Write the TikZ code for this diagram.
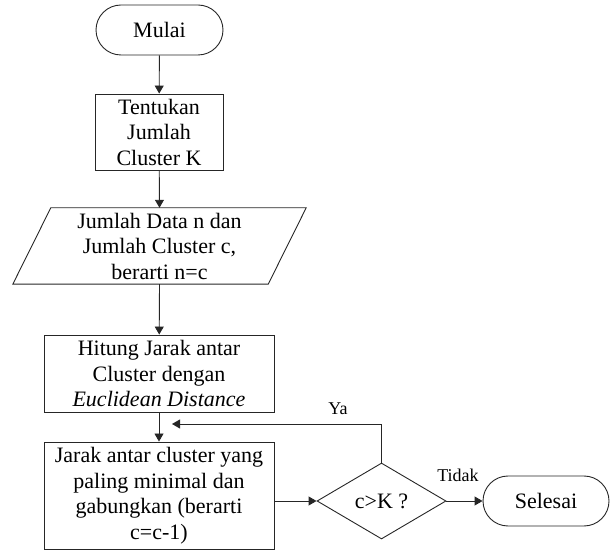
\documentclass[tikz,border=0pt]{standalone}
\usepackage{fontspec}
\setmainfont{Liberation Serif}
\usetikzlibrary{shapes.geometric,arrows.meta,calc}
\begin{document}
\begin{tikzpicture}[x=1pt,y=-1pt,
  every node/.style={font=\fontsize{22}{25.5}\selectfont, text=black, align=center, inner sep=0pt},
  line/.style={draw=black!85, line width=0.9pt},
  arr/.style={line, -{Triangle[length=8pt,width=9pt]}},
  term/.style={line, rounded corners=25pt, minimum height=50pt},
  proc/.style={line, rectangle},
  dec/.style={line, diamond, minimum width=129pt, minimum height=76pt},
  lbl/.style={font=\fontsize{18}{21}\selectfont}
]
\useasboundingbox (0,0) rectangle (611,553);
\node[term, minimum width=127pt] (mulai) at (159.5,30) {Mulai};
\node[proc, minimum width=128pt, minimum height=76pt] (tentukan) at (159,132) {Tentukan\\Jumlah\\Cluster K};
\node[minimum width=293pt, minimum height=76pt] (para) at (159.5,246) {Jumlah Data n dan\\Jumlah Cluster c,\\berarti n=c};
\draw[line] (para.south west) -- ([xshift=-38pt]para.south east) -- (para.north east) -- ([xshift=38pt]para.north west) -- cycle;
\node[proc, minimum width=230pt, minimum height=77pt] (hitung) at (159,373.5) {Hitung Jarak antar\\Cluster dengan\\\textit{Euclidean Distance}};
\node[proc, minimum width=230pt, minimum height=107pt] (jarak) at (159,495.5) {Jarak antar cluster yang\\paling minimal dan\\gabungkan (berarti\\c=c-1)};
\node[dec] (cek) at (381.5,501) {c>K ?};
\node[term, minimum width=126pt] (selesai) at (546,501) {Selesai};
\coordinate (fb) at (172,424);
\node[lbl] (ya) at (338,409) {Ya};
\node[lbl] (tidak) at (458,475) {Tidak};
\draw[arr] (mulai) -- (tentukan);
\draw[arr] (tentukan) -- (para.north);
\draw[arr] (para.south) -- (hitung);
\draw[arr] (hitung) -- (jarak);
\draw[arr] (jarak.east |- cek.west) -- (cek.west);
\draw[arr] (cek.east) -- (selesai.west);
\draw[arr] (cek.north) |- (fb);
\end{tikzpicture}
\end{document}
